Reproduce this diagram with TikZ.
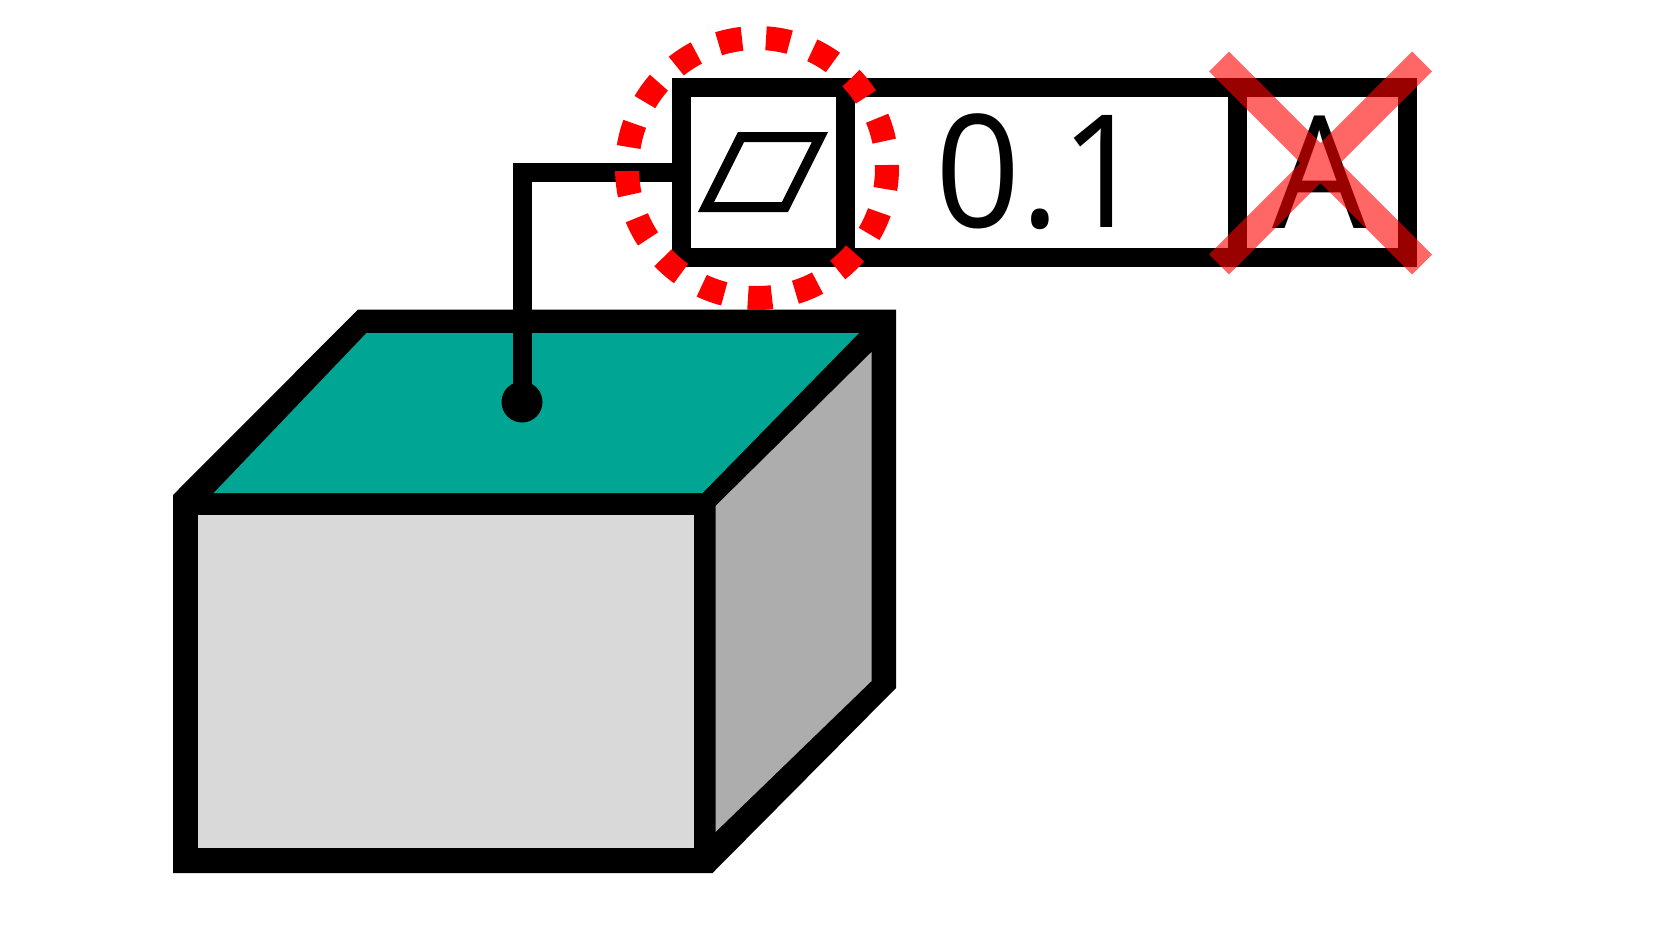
\documentclass[tikz,border=0pt]{standalone}
\usepackage{fontspec}
\setmainfont[FakeStretch=.95]{Open Sans}
\usetikzlibrary{positioning,shapes.misc}
\definecolor{topface}{HTML}{00A693}
\definecolor{frontface}{HTML}{D9D9D9}
\definecolor{sideface}{HTML}{ADADAD}
\tikzset{
  cell/.style={rectangle,draw,line width=19pt,inner sep=0pt,outer sep=0pt,minimum height=170pt,
    font=\fontsize{157}{157}\selectfont},
}

\begin{document}
\begin{tikzpicture}[x=1pt,y=-1pt]
\useasboundingbox (0,0) rectangle (1667,938);
\fill (173,495) -- (358,309.6) -- (896,309.6) -- (896,688) -- (712.5,873) -- (173,873) -- cycle;
\fill[topface] (366.5,333) -- (859,333) -- (702.5,493) -- (213.7,493) -- cycle;
\fill[sideface] (715.5,506) -- (871.5,352) -- (871.5,681) -- (715.5,832) -- cycle;
\fill[frontface] (198,514.5) rectangle (693.5,848);
\node [cell,minimum width=164.7pt] (symbolcell) at (763.35,172) {};
\node [cell,minimum width=391.3pt,right=0pt of symbolcell] (valuecell) {0.1\kern2pt};
\node [cell,minimum width=170pt,right=0pt of valuecell] (datumcell) {A\kern4pt};
\draw[line width=10pt] (741,137) -- (820,137) -- (785,207) -- (706,207) -- cycle;
\node [circle,fill,inner sep=0pt,minimum size=41pt] (dot) at (522,402) {};
\draw[line width=19pt] (symbolcell.west) -| (dot.center);
\node [circle,draw=red,line width=24pt,inner sep=0pt,minimum size=260pt,
  dash pattern=on 24pt off 24.05pt,dash phase=21pt] (ring) at (757,168) {};
\node [cross out,draw=red,draw opacity=.6,line width=28pt,inner sep=0pt,outer sep=0pt,minimum size=203pt] (crossmark) at (1320.5,163) {};
\end{tikzpicture}
\end{document}
